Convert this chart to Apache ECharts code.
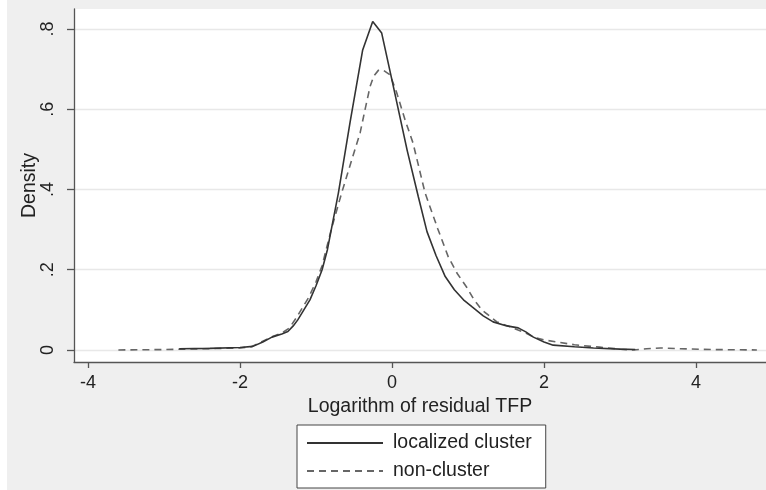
<!DOCTYPE html>
<html>
<head>
<meta charset="utf-8">
<script src="https://cdn.jsdelivr.net/npm/echarts@6/dist/echarts.min.js"></script>
<style>
html,body{margin:0;padding:0;background:#fff;}
#chart{width:766px;height:490px;}
</style>
</head>
<body>
<div id="chart"></div>
<script>
// Localized cluster (solid) kernel density: [x, density]
const localizedX = [-2.8,-2.4,-2.0,-1.83,-1.7,-1.58,-1.45,-1.37,-1.3,-1.24,-1.16,-1.08,-1.0,-0.92,-0.85,-0.706,-0.55,-0.386,-0.254,-0.136,0.0,0.2,0.346,0.46,0.58,0.70,0.82,0.94,1.05,1.2,1.33,1.51,1.66,1.76,1.86,2.0,2.12,2.4,2.65,3.0,3.2];
const localizedY = [0.003,0.004,0.006,0.009,0.02,0.032,0.04,0.046,0.06,0.075,0.1,0.125,0.16,0.2,0.25,0.391,0.57,0.748,0.819,0.79,0.672,0.497,0.382,0.295,0.235,0.183,0.15,0.125,0.108,0.085,0.07,0.06,0.055,0.045,0.032,0.02,0.012,0.008,0.005,0.002,0.001];

// Non-cluster (dashed) kernel density
const nonClusterX = [-3.6,-3.0,-2.5,-2.0,-1.85,-1.7,-1.58,-1.45,-1.35,-1.26,-1.18,-1.1,-1.0,-0.92,-0.8,-0.662,-0.53,-0.42,-0.355,-0.29,-0.24,-0.18,-0.12,-0.026,0.062,0.171,0.276,0.434,0.6,0.74,0.86,0.98,1.08,1.18,1.38,1.59,1.75,1.86,2.0,2.17,2.4,2.73,3.0,3.17,3.35,3.53,3.8,4.2,4.8];
const nonClusterY = [0.0,0.001,0.003,0.005,0.008,0.022,0.033,0.042,0.055,0.08,0.105,0.13,0.17,0.21,0.3,0.392,0.474,0.541,0.599,0.656,0.683,0.697,0.698,0.686,0.641,0.574,0.516,0.392,0.303,0.232,0.19,0.157,0.125,0.1,0.07,0.055,0.043,0.032,0.025,0.02,0.013,0.007,0.002,0.0,0.003,0.005,0.003,0.001,0.0];

const xTicks = [-4,-2,0,2,4];
const yTicks = [0,0.2,0.4,0.6,0.8];
const seriesNames = ['localized cluster','non-cluster'];

const zip = (xs, ys) => xs.map((x, i) => [x, ys[i]]);
const fmtY = v => { if (Math.abs(v) < 1e-9) return '0'; return String(+v.toFixed(1)).replace(/^0\./, '.'); };

const chart = echarts.init(document.getElementById('chart'), null, {renderer:'canvas'});
const font = 'Liberation Sans, Arial, sans-serif';
chart.setOption({
  animation:false,
  backgroundColor:'#efefef',
  textStyle:{fontFamily:font},
  graphic:[{type:'rect', left:0, top:0, shape:{width:7,height:490}, style:{fill:'#ffffff'}, z:-1}],
  grid:{left:74, top:9, right:0, bottom:128, show:true, backgroundColor:'#ffffff', borderWidth:0},
  xAxis:{
    type:'value', min:-4.184, max:4.92, splitNumber:5,
    name:'Logarithm of residual TFP', nameLocation:'middle', nameGap:31,
    nameTextStyle:{fontSize:19.5, color:'#222', fontFamily:font},
    axisLine:{show:true, onZero:false, lineStyle:{color:'#555', width:1.3}},
    axisTick:{show:true, length:6, customValues:xTicks, lineStyle:{color:'#555', width:1.3}},
    axisLabel:{customValues:xTicks, fontSize:18, color:'#222', margin:12, fontFamily:font,
      formatter: v => String(v)},
    splitLine:{show:false}
  },
  yAxis:{
    type:'value', min:-0.03, max:0.85, splitNumber:5,
    name:'Density', nameLocation:'middle', nameGap:34, nameMoveOverlap:false,
    nameTextStyle:{fontSize:19.5, color:'#222', fontFamily:font},
    axisLine:{show:true, onZero:false, lineStyle:{color:'#555', width:1.3}},
    axisTick:{show:true, length:7, customValues:yTicks, lineStyle:{color:'#555', width:1.3}},
    axisLabel:{customValues:yTicks, fontSize:18, color:'#222', rotate:90, margin:17, fontFamily:font, formatter:fmtY},
    splitLine:{show:true, lineStyle:{color:'#e8e8e8', width:1.3}}
  },
  legend:{
    orient:'vertical', left:297, top:425, height:80,
    padding:[8,14,7,9], itemGap:8, itemWidth:76, itemHeight:14,
    borderColor:'#444', borderWidth:1, backgroundColor:'#ffffff',
    itemStyle:{color:'rgba(0,0,0,0)', borderWidth:0, opacity:0},
    textStyle:{fontSize:19.5, lineHeight:20, color:'#222', fontFamily:font, padding:[0,0,0,5]},
    data:seriesNames
  },
  series:[
    {name:seriesNames[0], type:'line', data:zip(localizedX, localizedY), showSymbol:false, symbol:'none',
     lineStyle:{color:'#333', width:1.6, type:'solid'}, itemStyle:{color:'#333'}, z:3},
    {name:seriesNames[1], type:'line', data:zip(nonClusterX, nonClusterY), showSymbol:false, symbol:'none',
     lineStyle:{color:'#666', width:1.6, type:[7,5]}, itemStyle:{color:'#666'}, z:2}
  ]
});
</script>
</body>
</html>
